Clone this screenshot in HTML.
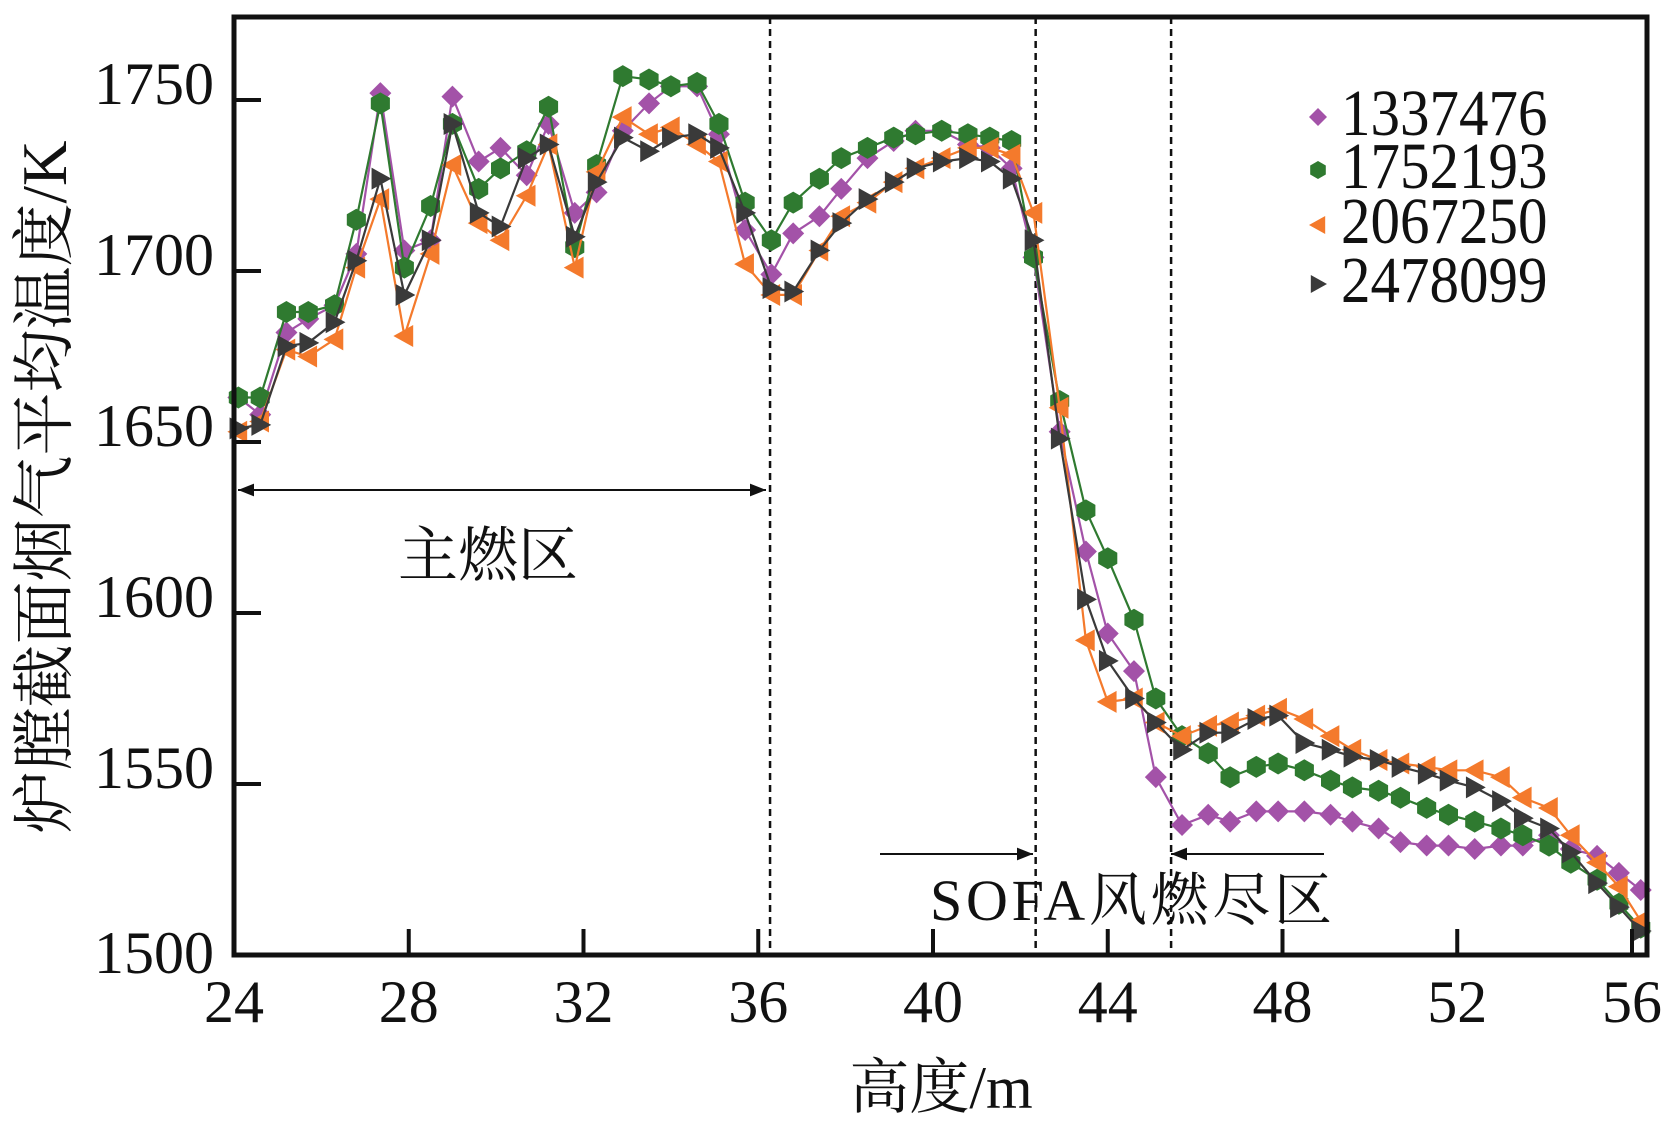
<!DOCTYPE html>
<html><head><meta charset="utf-8"><style>
html,body{margin:0;padding:0;background:#fff;}
svg{display:block;}
text{font-family:"Liberation Serif","Noto Serif CJK SC",serif;fill:#111;}
</style></head><body>
<svg id="chart" width="1677" height="1129" viewBox="0 0 1677 1129" xmlns="http://www.w3.org/2000/svg"></svg>
<script>
const heights=[24.1,24.6,25.2,25.7,26.3,26.8,27.35,27.9,28.5,29.0,29.6,30.1,30.7,31.2,31.8,32.3,32.9,33.5,34.0,34.6,35.1,35.7,36.3,36.8,37.4,37.9,38.5,39.1,39.6,40.2,40.8,41.3,41.8,42.3,42.9,43.5,44.0,44.6,45.1,45.7,46.3,46.8,47.4,47.9,48.5,49.1,49.6,50.2,50.7,51.3,51.8,52.4,53.0,53.5,54.1,54.6,55.2,55.7,56.2];
const s1337476=[1663,1658,1682,1686,1690,1705,1752,1706,1709,1751,1732,1736,1728,1743,1717,1723,1741,1749,1754,1754,1740,1712,1699,1711,1716,1724,1733,1738,1741,1741,1737,1736,1730,1704,1653,1618,1594,1583,1552,1538,1541,1539,1542,1542,1542,1541,1539,1537,1533,1532,1532,1531,1532,1532,1535,1531,1529,1524,1519];
const s1752193=[1663,1663,1688,1688,1690,1715,1749,1701,1719,1743,1724,1730,1735,1748,1707,1731,1757,1756,1754,1755,1743,1720,1709,1720,1727,1733,1736,1739,1740,1741,1740,1739,1738,1704,1662,1630,1616,1598,1575,1564,1559,1552,1555,1556,1554,1551,1549,1548,1546,1543,1541,1539,1537,1535,1532,1527,1522,1515,1508];
const s2067250=[1653,1656,1677,1675,1680,1701,1721,1681,1705,1731,1714,1709,1722,1737,1701,1729,1745,1740,1742,1737,1732,1702,1693,1693,1706,1716,1720,1726,1730,1733,1736,1736,1734,1717,1660,1592,1574,1575,1568,1564,1567,1568,1570,1572,1569,1564,1560,1557,1556,1555,1554,1554,1552,1546,1543,1535,1527,1520,1510];
const s2478099=[1654,1655,1678,1679,1685,1703,1727,1693,1709,1743,1717,1713,1733,1737,1710,1726,1739,1735,1739,1740,1736,1717,1695,1694,1706,1714,1721,1726,1730,1732,1733,1732,1727,1709,1651,1604,1586,1575,1568,1560,1565,1565,1569,1570,1562,1560,1558,1557,1555,1553,1551,1549,1545,1540,1537,1530,1521,1514,1507];
const seriesNames=["1337476","1752193","2067250","2478099"];
const xTicks=[24,28,32,36,40,44,48,52,56];
const yTicks=[1500,1550,1600,1650,1700,1750];
const zoneLines=[36.27,42.35,45.45];

const NS="http://www.w3.org/2000/svg";
const svg=document.getElementById('chart');
const L=234,R=1647,T=17,B=955;
function xs(v){return 234+(v-24)*(1632-234)/32;}
function ys(v){return 100+(1750-v)*(955-100)/250;}
function mk(tag,attrs,parent){const e=document.createElementNS(NS,tag);for(const k in attrs)e.setAttribute(k,attrs[k]);(parent||svg).appendChild(e);return e;}

zoneLines.forEach(z=>{
  const l=mk('line',{x1:xs(z),x2:xs(z),y1:T,y2:B,stroke:'#111','stroke-width':2.5,'stroke-dasharray':'7,5'});
  
  
});

const colors=['#a352a8','#2f7a30','#f47a2c','#3a3a3a'];
const data=[s1337476,s1752193,s2067250,s2478099];
function marker(kind,cx,cy,g,s){
  let e;
  if(kind===0) e=mk('polygon',{points:`${cx},${cy-s} ${cx+s},${cy} ${cx},${cy+s} ${cx-s},${cy}`},g);
  else if(kind===1){let p=[];for(let i=0;i<6;i++){const a=Math.PI/6+i*Math.PI/3;p.push((cx+s*Math.cos(a)).toFixed(1)+','+(cy+s*Math.sin(a)).toFixed(1));}e=mk('polygon',{points:p.join(' ')},g);}
  else if(kind===2) e=mk('polygon',{points:`${cx-s},${cy} ${cx+s*0.8},${cy-s} ${cx+s*0.8},${cy+s}`},g);
  else e=mk('polygon',{points:`${cx+s},${cy} ${cx-s*0.8},${cy-s} ${cx-s*0.8},${cy+s}`},g);
  return e;
}
data.forEach((arr,k)=>{
  const g=mk('g',{fill:colors[k]});
  
  
  const pts=arr.map((v,i)=>xs(heights[i]).toFixed(1)+','+ys(v).toFixed(1)).join(' ');
  const pl=mk('polyline',{points:pts,fill:'none',stroke:colors[k],'stroke-width':2.2},g);
  
  
  arr.forEach((v,i)=>{
    const m=marker(k,xs(heights[i]),ys(v),g,11);
    
    
  });
});

const frame=mk('rect',{x:L,y:T,width:R-L,height:B-T,fill:'none',stroke:'#111','stroke-width':5});



xTicks.forEach(t=>{
  const tk=mk('line',{x1:xs(t),x2:xs(t),y1:B,y2:B-26,stroke:'#111','stroke-width':4});
  
  
  const tx=mk('text',{x:xs(t),y:1022,'text-anchor':'middle','font-size':60});
  tx.textContent=t;
  
  
});
yTicks.forEach(t=>{
  const tk=mk('line',{x1:L,x2:L+27,y1:ys(t),y2:ys(t),stroke:'#111','stroke-width':4});
  
  
  const tx=mk('text',{x:214,y:ys(t)+(t===1500?18:4),'text-anchor':'end','font-size':60});
  tx.textContent=t;
  
  
});

const legendY=[135,188,243,302];
seriesNames.forEach((n,k)=>{
  const g=mk('g',{fill:colors[k]});
  
  
  marker(k,1318,legendY[k]-18,g,9);
  const tx=mk('text',{x:1341,y:legendY[k],'font-size':59,transform:`translate(0,${legendY[k]}) scale(1,1.12) translate(0,${-legendY[k]})`},g);
  tx.setAttribute('style','fill:#111');
  tx.textContent=n;
});
</script>
<svg style="position:absolute;left:0;top:0" width="1677" height="1129">
  <defs><marker id="ah" viewBox="0 0 10 10" refX="10" refY="5" markerWidth="10" markerHeight="8" orient="auto-start-reverse"><path d="M0,1 L10,5 L0,9 z" fill="#111"/></marker></defs>
  <line x1="238" y1="490" x2="766" y2="490" stroke="#111" stroke-width="2" marker-start="url(#ah)" marker-end="url(#ah)"/>
  <text x="488" y="576" text-anchor="middle" font-size="60" style="font-family:'Noto Serif CJK SC',serif;fill:#111">主燃区</text>
  <line x1="880" y1="854" x2="1033" y2="854" stroke="#111" stroke-width="2" marker-end="url(#ah)"/>
  <line x1="1324" y1="854" x2="1171" y2="854" stroke="#111" stroke-width="2" marker-end="url(#ah)"/>
  <text x="930" y="920" font-size="58" textLength="402" style="font-family:'Liberation Serif','Noto Serif CJK SC',serif;fill:#111">SOFA风燃尽区</text>
  <text x="941" y="1108" text-anchor="middle" font-size="60" style="font-family:'Liberation Serif','Noto Serif CJK SC',serif;fill:#111">高度/m</text>
  <text transform="translate(66,487) rotate(-90)" text-anchor="middle" font-size="63" style="font-family:'Liberation Serif','Noto Serif CJK SC',serif;fill:#111">炉膛截面烟气平均温度/K</text>
</svg>
</body></html>
